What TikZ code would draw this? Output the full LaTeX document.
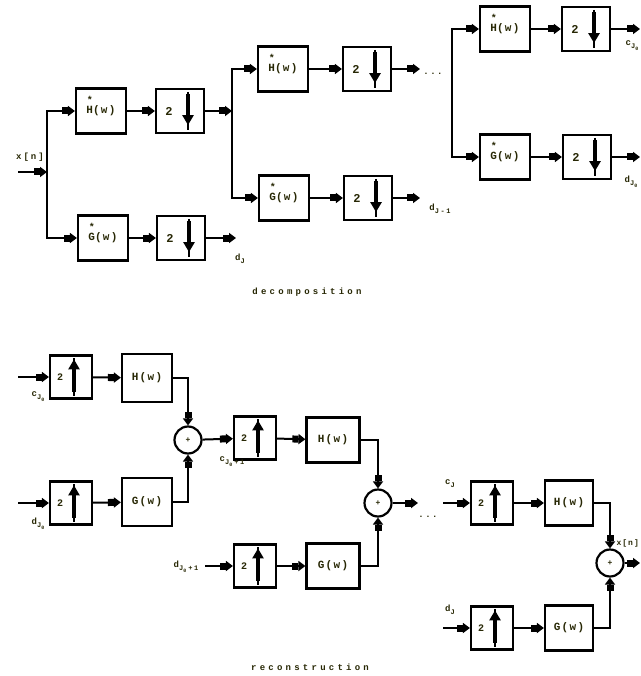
\documentclass[tikz,border=0pt]{standalone}
\usepackage{fontspec}
\usetikzlibrary{arrows.meta}
\newfontfamily\boxfont[LetterSpace=12]{Liberation Mono}
\newfontfamily\tagfont[LetterSpace=22]{Liberation Mono}
\newfontfamily\titlefont[LetterSpace=36]{Liberation Mono}
\definecolor{ink}{RGB}{40,40,5}
\newcommand{\conj}[1]{\raisebox{0pt}[0pt][0pt]{\shortstack{\fontsize{10}{5}\selectfont*\\#1}}}
\newcommand{\dn}[1]{\raisebox{-3pt}{\fontsize{7}{7}\selectfont #1}}
\newcommand{\dnn}[2]{\raisebox{-3pt}{\fontsize{7}{7}\selectfont #1\raisebox{-2pt}{\fontsize{5}{5}\selectfont #2}}}

\begin{document}
\begin{tikzpicture}[x=1pt, y=-1pt,
    sig/.style={line width=2pt, -{Rectangle[length=6pt,width=7pt]Triangle[length=7pt,width=10pt]}},
    filt/.style={draw, line width=2.2pt, minimum width=50pt, minimum height=45pt, inner sep=0pt,
                 text=ink, font=\boxfont\bfseries\fontsize{11}{11}\selectfont},
    rate/.style={filt, minimum width=48pt, minimum height=44pt, font=\boxfont\bfseries\fontsize{12}{12}\selectfont},
    urate/.style={rate, minimum width=42pt, minimum height=43pt, font=\boxfont\bfseries\fontsize{10}{10}\selectfont},
    adder/.style={circle, draw, line width=2.2pt, minimum size=27pt, inner sep=0pt,
                  text=ink, font=\boxfont\bfseries\fontsize{8}{8}\selectfont},
    tag/.style={text=ink, inner sep=1pt, font=\tagfont\bfseries\fontsize{9}{9}\selectfont},
    title/.style={text=ink, font=\titlefont\bfseries\fontsize{9}{9}\selectfont}]
  \useasboundingbox (0,0) rectangle (640,676);

  % ---- decomposition ----
  \coordinate (xin) at (18,172);
  \coordinate (split1) at (47,172);
  \node[tag] (xlab) at (30,157) {x[n]};

  \node[filt] (ha1) at (101,111) {\conj{H}(w)};
  \node[rate] (dn1) at (180,111) {2\kern22pt\null};
  \node[filt] (ga1) at (103,238) {\conj{G}(w)};
  \node[rate] (dg1) at (181,238) {2\kern22pt\null};
  \coordinate (dJ) at (236,238);
  \node[tag] (dJlab) at (240,259) {d\dn{J}};

  \coordinate (split2) at (232,111);
  \node[filt] (ha2) at (283,69) {\conj{H}(w)};
  \node[rate] (dn2) at (367,69) {2\kern22pt\null};
  \coordinate (c2) at (420,69);
  \node[filt] (ga2) at (284,198) {\conj{G}(w)};
  \node[rate] (dg2) at (368,198) {2\kern22pt\null};
  \coordinate (d2) at (420,198);
  \node[tag] (d2lab) at (440,209) {d\dn{J-1}};
  \node[title] (dots1) at (433,74) {.\,.\,.};

  \coordinate (split3) at (452,93);
  \node[filt] (ha3) at (505,29) {\conj{H}(w)};
  \node[rate] (dn3) at (586,29) {2\kern22pt\null};
  \coordinate (c3) at (640,29);
  \node[tag] (c3lab) at (632,46) {c\dnn{J}{0}};
  \node[filt] (ga3) at (505,157) {\conj{G}(w)};
  \node[rate] (dg3) at (587,157) {2\kern22pt\null};
  \coordinate (d3) at (640,157);
  \node[tag] (d3lab) at (631,182) {d\dnn{J}{0}};

  \node[title] (declab) at (307,292) {decomposition};

  \draw[sig] (xin) -- (split1);
  \draw[sig] (split1) |- (ha1);
  \draw[sig] (split1) |- (ga1);
  \draw[sig] (ha1) -- (dn1);
  \draw[sig] (ga1) -- (dg1);
  \draw[sig] (dg1) -- (dJ);
  \draw[sig] (dn1) -- (split2);
  \draw[sig] (split2) |- (ha2);
  \draw[sig] (split2) |- (ga2);
  \draw[sig] (ha2) -- (dn2);
  \draw[sig] (ga2) -- (dg2);
  \draw[sig] (dn2) -- (c2);
  \draw[sig] (dg2) -- (d2);
  \draw[sig] (split3) |- (ha3);
  \draw[sig] (split3) |- (ga3);
  \draw[sig] (ha3) -- (dn3);
  \draw[sig] (ga3) -- (dg3);
  \draw[sig] (dn3) -- (c3);
  \draw[sig] (dg3) -- (d3);

  % down-sampling arrows
  \foreach \b in {dn1,dg1,dn2,dg2,dn3,dg3} {
    \draw[line width=1.2pt] ([xshift=8pt,yshift=-4pt]\b.north) -- ([xshift=8pt,yshift=4pt]\b.south);
    \draw[line width=4pt, -{Triangle[length=10pt,width=11pt]}]
      ([xshift=8pt,yshift=-6pt]\b.north) -- ([xshift=8pt,yshift=9pt]\b.south);
  }

  % ---- reconstruction ----
  \coordinate (cin1) at (18,377);
  \node[tag] (cin1lab) at (38,397) {c\dnn{J}{0}};
  \node[urate] (ur1) at (71,377) {2\kern22pt\null};
  \node[filt, minimum height=48pt] (hr1) at (147,378) {H(w)};
  \coordinate (din1) at (18,503);
  \node[tag] (din1lab) at (38,524) {d\dnn{J}{0}};
  \node[urate] (ug1) at (71,503) {2\kern22pt\null};
  \node[filt, minimum height=48pt] (gr1) at (147,502) {G(w)};
  \node[adder] (s1) at (188,440) {+};

  \node[urate] (ur2) at (255,438) {2\kern22pt\null};
  \node[tag] (s1lab) at (232,462) {c\dnn{J}{0}\kern2pt\raisebox{-3pt}{\fontsize{7}{7}\selectfont+1}};
  \node[filt, minimum width=53pt] (hr2) at (333,440) {H(w)};
  \coordinate (din2) at (205,566);
  \node[tag] (din2lab) at (186,567) {d\dnn{J}{0}\kern2pt\raisebox{-3pt}{\fontsize{7}{7}\selectfont+1}};
  \node[urate] (ug2) at (255,566) {2\kern22pt\null};
  \node[filt, minimum width=53pt] (gr2) at (333,566) {G(w)};
  \node[adder] (s2) at (378,503) {+};
  \coordinate (c4) at (418,503);
  \node[title] (dots2) at (428,517) {.\,.\,.};

  \coordinate (cin3) at (443,503);
  \node[tag] (cin3lab) at (450,484) {c\dn{J}};
  \node[urate] (ur3) at (492,503) {2\kern22pt\null};
  \node[filt, minimum width=48pt] (hr3) at (569,503) {H(w)};
  \coordinate (din3) at (443,628);
  \node[tag] (din3lab) at (450,610) {d\dn{J}};
  \node[urate] (ug3) at (492,628) {2\kern22pt\null};
  \node[filt, minimum width=48pt] (gr3) at (569,628) {G(w)};
  \node[adder] (s3) at (610,563) {+};
  \coordinate (xout) at (640,563);
  \node[tag, anchor=east, font=\boxfont\bfseries\fontsize{8}{8}\selectfont] (xoutlab) at (640,543) {x[n]};

  \node[title] (reclab) at (310,667) {reconstruction};

  \draw[sig] (cin1) -- (ur1);
  \draw[sig] (ur1) -- (hr1);
  \draw[sig] (hr1) -| (s1);
  \draw[sig] (din1) -- (ug1);
  \draw[sig] (ug1) -- (gr1);
  \draw[sig] (gr1) -| (s1);
  \draw[sig] (s1) -- (ur2);
  \draw[sig] (ur2) -- (hr2);
  \draw[sig] (hr2) -| (s2);
  \draw[sig] (din2) -- (ug2);
  \draw[sig] (ug2) -- (gr2);
  \draw[sig] (gr2) -| (s2);
  \draw[sig] (s2) -- (c4);
  \draw[sig] (cin3) -- (ur3);
  \draw[sig] (ur3) -- (hr3);
  \draw[sig] (hr3) -| (s3);
  \draw[sig] (din3) -- (ug3);
  \draw[sig] (ug3) -- (gr3);
  \draw[sig] (gr3) -| (s3);
  \draw[sig] (s3) -- (xout);

  % up-sampling arrows
  \foreach \b in {ur1,ug1,ur2,ug2,ur3,ug3} {
    \draw[line width=1.2pt] ([xshift=3pt,yshift=4pt]\b.south) -- ([xshift=3pt,yshift=-4pt]\b.north);
    \draw[line width=4pt, -{Triangle[length=10pt,width=11pt]}]
      ([xshift=3pt,yshift=8pt]\b.south) -- ([xshift=3pt,yshift=-5pt]\b.north);
  }
\end{tikzpicture}
\end{document}
